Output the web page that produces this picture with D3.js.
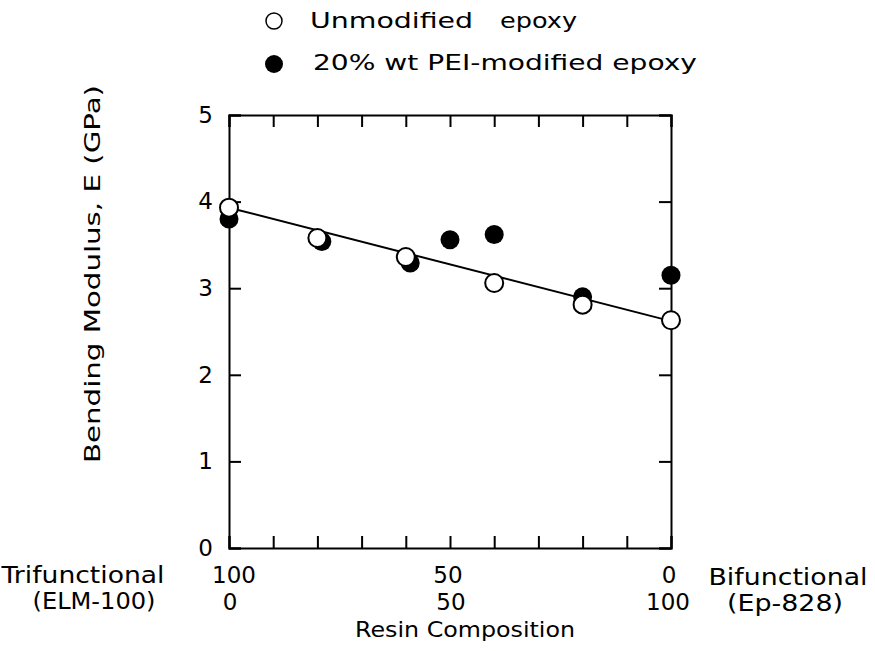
<!DOCTYPE html>
<html>
<head>
<meta charset="utf-8">
<script src="https://cdn.jsdelivr.net/npm/d3@7"></script>
<style>
  body { margin: 0; background: #fff; }
  text { font-family: "DejaVu Sans", "Liberation Sans", sans-serif; fill: #000; }
</style>
</head>
<body>
<div id="container"></div>
<script>
// trifunctional content (%) for each measured resin
const unmodX = [100, 80, 60, 40, 20, 0]
const unmodE = [3.93, 3.58, 3.36, 3.06, 2.81, 2.63]
const peiX = [100, 79, 59, 50, 40, 20, 0]
const peiE = [3.80, 3.54, 3.29, 3.56, 3.62, 2.90, 3.15]
// fitted line through the unmodified points
const fitX = [100, 0]
const fitE = [3.93, 2.62]
const yTicks = [0, 1, 2, 3, 4, 5]
const xTicks = [0, 10, 20, 30, 40, 50, 60, 70, 80, 90, 100]
const triLabels = ["100", "50", "0"]
const biLabels = ["0", "50", "100"]
const labelAt = [100, 50, 0]

const width = 875
const height = 651
const plotLeft = 229, plotRight = 671, plotTop = 115, plotBottom = 548
const ticklen = 12
const bigfont = 23
const smallfont = 21

const svg = d3.select("#container").append("svg").attr("width", width).attr("height", height)

const x = d3.scaleLinear().domain([100, 0]).range([plotLeft, plotRight])
const y = d3.scaleLinear().domain([0, 5]).range([plotBottom, plotTop])

// frame and inward ticks
svg.append("g").attr("transform", `translate(${plotLeft},0)`)
  .call(d3.axisLeft(y).tickValues(yTicks).tickSize(-ticklen).tickPadding(16).tickFormat(d3.format("d")))
  .call(g => g.selectAll("text").attr("font-size", bigfont))
  .attr("font-family", null)
svg.append("g").attr("transform", `translate(${plotRight},0)`)
  .call(d3.axisRight(y).tickValues(yTicks).tickSize(-ticklen).tickFormat(""))
svg.append("g").attr("transform", `translate(0,${plotBottom})`)
  .call(d3.axisBottom(x).tickValues(xTicks).tickSize(-ticklen).tickFormat(""))
svg.append("g").attr("transform", `translate(0,${plotTop})`)
  .call(d3.axisTop(x).tickValues(xTicks).tickSize(-ticklen).tickFormat(""))

svg.selectAll(".domain").attr("stroke", "#000").attr("stroke-width", 2)
svg.selectAll(".tick line").attr("stroke", "#000").attr("stroke-width", 2)

// composition labels, two rows
svg.selectAll(".tri").data(labelAt).enter().append("text")
  .attr("x", d => x(d) + (d === 100 ? 5 : -2)).attr("y", 583)
  .attr("text-anchor", "middle").attr("font-size", bigfont)
  .text((d, i) => triLabels[i])
svg.selectAll(".bi").data(labelAt).enter().append("text")
  .attr("x", d => x(d) + (d === 0 ? -3 : 1)).attr("y", 610)
  .attr("text-anchor", "middle").attr("font-size", bigfont)
  .text((d, i) => biLabels[i])

function label(txt, cx, cy, size, len) {
  const t = svg.append("text").attr("x", cx).attr("y", cy)
    .attr("text-anchor", "middle").attr("font-size", size).text(txt)
  if (len) t.attr("textLength", len).attr("lengthAdjust", "spacingAndGlyphs")
  return t
}

label("Trifunctional", 83, 583, bigfont, 163)
label("(ELM-100)", 94, 609, bigfont, 123)
label("Bifunctional", 788, 585, bigfont, 159)
label("(Ep-828)", 785, 611, bigfont, 116)
label("Resin Composition", 465, 637, 22, 220)

label("Bending Modulus, E (GPa)", 0, 0, 22, 378)
  .attr("x", null).attr("y", null)
  .attr("transform", "translate(100,274) rotate(-90)")

// fit line
const line = d3.line().x(d => x(d[0])).y(d => y(d[1]))
svg.append("path")
  .attr("d", line(fitX.map((d, i) => [d, fitE[i]])))
  .attr("fill", "none").attr("stroke", "#000").attr("stroke-width", 2)

// filled points first, open ones drawn on top
svg.selectAll(".pei").data(peiX).enter().append("circle")
  .attr("cx", d => x(d)).attr("cy", (d, i) => y(peiE[i]))
  .attr("r", 9.5).attr("fill", "#000")

svg.selectAll(".unmod").data(unmodX).enter().append("circle")
  .attr("cx", d => x(d)).attr("cy", (d, i) => y(unmodE[i]))
  .attr("r", 9).attr("fill", "#fff").attr("stroke", "#000").attr("stroke-width", 2)

// legend
svg.append("circle").attr("cx", 274).attr("cy", 21).attr("r", 8).attr("fill", "#fff").attr("stroke", "#000").attr("stroke-width", 1.5)
label("Unmodified", 391.5, 28, smallfont, 163)
label("epoxy", 538.5, 28, smallfont, 77)
svg.append("circle").attr("cx", 274).attr("cy", 64).attr("r", 9).attr("fill", "#000")
label("20% wt PEI-modified epoxy", 505, 70, smallfont, 384)
</script>
</body>
</html>
